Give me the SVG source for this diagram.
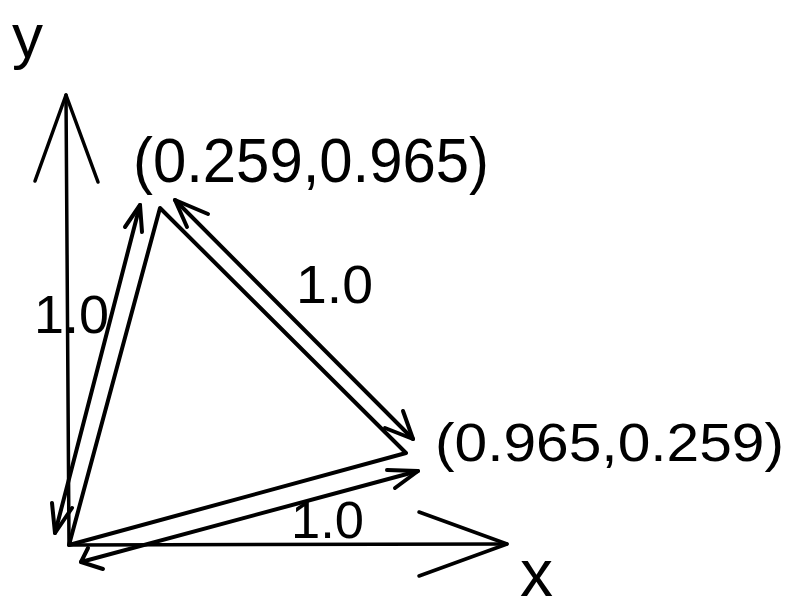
<svg xmlns="http://www.w3.org/2000/svg" width="793" height="610" viewBox="0 0 793 610">
<style>
  .ln { fill: none; stroke: #000; stroke-width: 4; stroke-linecap: round; stroke-linejoin: round; }
  .ax { fill: none; stroke: #000; stroke-width: 3.5; stroke-linecap: round; stroke-linejoin: round; }
  .t { font-family: "Liberation Sans", "DejaVu Sans", Arial, sans-serif; fill: #000; }
</style>
<rect width="793" height="610" fill="#fff"/>
<g id="connectors">
  <g id="y-axis">
    <line class="ax" x1="69" y1="545" x2="66" y2="95"/>
    <polyline class="ax" points="35,181 66,95 98,182"/>
  </g>
  <g id="x-axis">
    <line class="ax" x1="69" y1="545" x2="507" y2="544"/>
    <polyline class="ax" points="419,512 507,544 419,576"/>
  </g>
  <g id="triangle">
    <polygon class="ln" points="69,545 160,208 406,453"/>
  </g>
  <g id="arrow-OA">
    <line class="ln" x1="55" y1="533" x2="140" y2="205"/>
    <polyline class="ln" points="52,503 55,533 72,508"/>
    <polyline class="ln" points="125,227 140,205 142,232"/>
  </g>
  <g id="arrow-AB">
    <line class="ln" x1="175" y1="200" x2="413" y2="439"/>
    <polyline class="ln" points="208,214 175,200 187,227"/>
    <polyline class="ln" points="385,428 413,439 403,411"/>
  </g>
  <g id="arrow-OB">
    <line class="ln" x1="81" y1="562" x2="418" y2="471"/>
    <polyline class="ln" points="88,548 81,562 103,569"/>
    <polyline class="ln" points="387,470 418,471 395,488"/>
  </g>
</g>
<g id="label-y"><text class="t" x="12" y="57" font-size="62">y</text></g>
<g id="label-x"><text class="t" x="520" y="596" font-size="66">x</text></g>
<g id="label-A"><text class="t" x="133" y="182" font-size="63" textLength="356" lengthAdjust="spacingAndGlyphs">(0.259,0.965)</text></g>
<g id="label-B"><text class="t" x="435" y="461" font-size="54" textLength="349" lengthAdjust="spacingAndGlyphs">(0.965,0.259)</text></g>
<g id="label-OA"><text class="t" x="34" y="333" font-size="53" textLength="75" lengthAdjust="spacingAndGlyphs">1.0</text></g>
<g id="label-AB"><text class="t" x="296" y="303" font-size="53" textLength="77" lengthAdjust="spacingAndGlyphs">1.0</text></g>
<g id="label-OB"><text class="t" x="291" y="538" font-size="51" textLength="73" lengthAdjust="spacingAndGlyphs">1.0</text></g>
</svg>
